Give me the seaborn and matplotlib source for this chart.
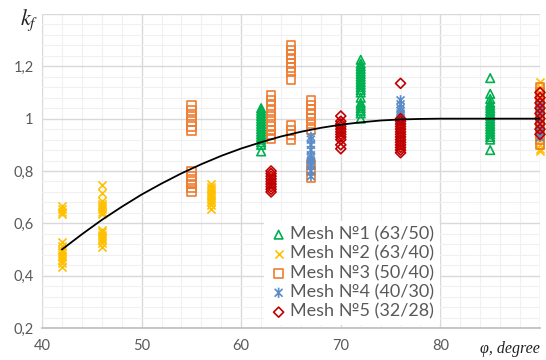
import numpy as np
import pandas as pd
import matplotlib
matplotlib.use("Agg")
import matplotlib.pyplot as plt
from matplotlib.path import Path
import seaborn as sns

# ---------------- data ----------------
mesh_names = ["Mesh №1 (63/50)", "Mesh №2 (63/40)", "Mesh №3 (50/40)",
              "Mesh №4 (40/30)", "Mesh №5 (32/28)"]

# Mesh 1 (triangles)
m1_phi = [62] * 16 + [72] * 20 + [85] * 19
m1_kf = [1.04, 1.03, 1.02, 1.01, 1.0, 0.99, 0.98, 0.97, 0.96, 0.95, 0.94, 0.93, 0.92, 0.91, 0.90, 0.875,
         1.225, 1.21, 1.20, 1.19, 1.18, 1.17, 1.16, 1.15, 1.14, 1.13, 1.12, 1.11, 1.10, 1.08, 1.06, 1.05, 1.04, 1.03, 1.02, 1.0,
         1.155, 1.095, 1.075, 1.06, 1.05, 1.04, 1.03, 1.02, 1.01, 1.0, 0.99, 0.98, 0.97, 0.96, 0.95, 0.94, 0.93, 0.92, 0.88]

# Mesh 2 (crosses)
m2_phi = [42] * 13 + [46] * 15 + [57] * 10 + [90] * 15
m2_kf = [0.665, 0.655, 0.645, 0.635, 0.53, 0.515, 0.50, 0.49, 0.48, 0.47, 0.46, 0.45, 0.435,
         0.745, 0.715, 0.685, 0.675, 0.665, 0.655, 0.645, 0.635, 0.575, 0.565, 0.555, 0.545, 0.535, 0.525, 0.51,
         0.75, 0.74, 0.73, 0.72, 0.71, 0.70, 0.69, 0.68, 0.67, 0.655,
         1.14, 1.12, 1.10, 1.08, 1.06, 1.04, 1.02, 1.0, 0.98, 0.96, 0.94, 0.92, 0.90, 0.885, 0.875]

# Mesh 3 (squares)
m3_phi = [55] * 12 + [63] * 10 + [65] * 12 + [67] * 10 + [90] * 12
m3_kf = [1.05, 1.03, 1.01, 0.99, 0.97, 0.955, 0.80, 0.78, 0.76, 0.75, 0.735, 0.72,
         1.09, 1.07, 1.05, 1.03, 1.01, 0.99, 0.97, 0.955, 0.94, 0.925,
         1.28, 1.26, 1.245, 1.23, 1.21, 1.195, 1.18, 1.15, 0.975, 0.955, 0.94, 0.92,
         1.07, 1.05, 1.035, 1.02, 1.0, 0.98, 0.96, 0.825, 0.80, 0.775,
         1.12, 1.10, 1.08, 1.06, 1.04, 1.02, 1.0, 0.98, 0.96, 0.94, 0.92, 0.90]

# Mesh 4 (stars)
m4_phi = [67] * 11 + [76] * 8 + [90] * 6
m4_kf = [0.93, 0.92, 0.90, 0.88, 0.86, 0.85, 0.84, 0.83, 0.82, 0.80, 0.78,
         1.07, 1.055, 1.04, 1.03, 1.02, 1.01, 1.0, 0.99,
         1.05, 1.03, 1.0, 0.98, 0.95, 0.93]

# Mesh 5 (diamonds)
m5_phi = [63] * 9 + [70] * 11 + [76] * 15 + [90] * 9
m5_kf = [0.80, 0.79, 0.78, 0.77, 0.76, 0.75, 0.74, 0.73, 0.72,
         1.01, 0.99, 0.98, 0.97, 0.96, 0.95, 0.94, 0.93, 0.92, 0.90, 0.885,
         1.135, 1.0, 0.99, 0.98, 0.97, 0.96, 0.95, 0.94, 0.93, 0.92, 0.91, 0.90, 0.89, 0.88, 0.87,
         1.10, 1.08, 1.06, 1.04, 1.02, 1.0, 0.98, 0.96, 0.94]

# trend curve
curve_phi = [42, 44, 46, 48, 50, 52, 54, 56, 58, 60, 62, 64, 66, 68, 70, 72, 74, 76, 78, 80, 82, 84, 86, 88, 90]
curve_kf = [0.50, 0.558, 0.613, 0.663, 0.710, 0.752, 0.791, 0.826, 0.858, 0.886, 0.910, 0.932, 0.950,
            0.965, 0.977, 0.986, 0.993, 0.997, 0.999, 1.0, 1.0, 1.0, 1.0, 1.0, 1.0]

x_ticks = [40, 50, 60, 70, 80, 90]
x_labels = ["40", "50", "60", "70", "80", ""]
y_ticks = [0.2, 0.4, 0.6, 0.8, 1.0, 1.2, 1.4]
y_labels = ["0,2", "0,4", "0,6", "0,8", "1", "1,2", ""]

# ---------------- styling ----------------
sns.set_theme(style="white")
plt.rcParams["font.family"] = ["Lato", "DejaVu Sans"]
plt.rcParams["mathtext.fontset"] = "stix"

colors = ["#00B050", "#FFC000", "#ED7D31", "#5B8CC8", "#C00000"]
star = Path([(-1, -1), (1, 1), (-1, 1), (1, -1), (0, -1.3), (0, 1.3)],
            [Path.MOVETO, Path.LINETO, Path.MOVETO, Path.LINETO, Path.MOVETO, Path.LINETO])

fig = plt.figure(figsize=(5.46, 3.60), dpi=100)
ax = fig.add_axes([42 / 546, 1 - 328 / 360, 498 / 546, 314 / 360])

series = [(m1_phi, m1_kf, "^", 38, "hollow"),
          (m2_phi, m2_kf, "x", 34, "line"),
          (m3_phi, m3_kf, "s", 40, "hollow"),
          (m4_phi, m4_kf, star, 55, "hollow"),
          (m5_phi, m5_kf, "D", 26, "hollow")]

for (phi, kf, mk, size, kind), name, col in zip(series, mesh_names, colors):
    df = pd.DataFrame({"phi": phi, "kf": kf})
    if kind == "hollow":
        sns.scatterplot(data=df, x="phi", y="kf", marker=mk, s=size, facecolors="none",
                        edgecolor=col, linewidth=1.2, label=name, ax=ax, clip_on=False, zorder=3)
    else:
        sns.scatterplot(data=df, x="phi", y="kf", marker=mk, s=size, color=col,
                        linewidth=1.2, label=name, ax=ax, clip_on=False, zorder=3)

cdf = pd.DataFrame({"phi": curve_phi, "kf": curve_kf})
sns.lineplot(data=cdf, x="phi", y="kf", color="black", linewidth=1.3, ax=ax, zorder=4,
             legend=False)

ax.set_xlim(40, 90)
ax.set_ylim(0.2, 1.4)
ax.set_xticks(x_ticks)
ax.set_xticklabels(x_labels)
ax.set_yticks(y_ticks)
ax.set_yticklabels(y_labels)
ax.set_xticks(np.arange(40, 91, 2), minor=True)
ax.set_yticks(np.arange(0.2, 1.401, 0.04), minor=True)
ax.grid(which="major", color="#D9D9D9", linewidth=1.0)
ax.grid(which="minor", color="#F0F0F0", linewidth=0.8)
ax.set_axisbelow(True)
ax.tick_params(axis="both", which="both", length=0, labelsize=10.5, labelcolor="#595959")
ax.tick_params(axis="x", pad=8)
ax.tick_params(axis="y", pad=6)
for s in ["top", "right", "left"]:
    ax.spines[s].set_visible(False)
ax.spines["bottom"].set_color("#BFBFBF")
ax.set_xlabel("")
ax.set_ylabel("")

fig.text(20 / 546, 1 - 20 / 360, r"$k_f$", fontsize=16, color="#222222", va="center", ha="left")
fig.text(540 / 546, 1 - 349 / 360, "φ, degree", fontsize=11.5, color="#222222",
         family="Liberation Serif", style="italic", va="center", ha="right")

leg = ax.legend(loc="upper left", bbox_to_anchor=(0.428, 0.37), frameon=True,
                fontsize=13, scatterpoints=1, handletextpad=0.15, labelspacing=0.18,
                borderpad=0.3, handlelength=1.0)
leg.get_frame().set_facecolor("white")
leg.get_frame().set_edgecolor("none")
leg.get_frame().set_alpha(1.0)
leg.set_zorder(5)
for t in leg.get_texts():
    t.set_color("#595959")

fig.savefig("out.png", dpi=100)
